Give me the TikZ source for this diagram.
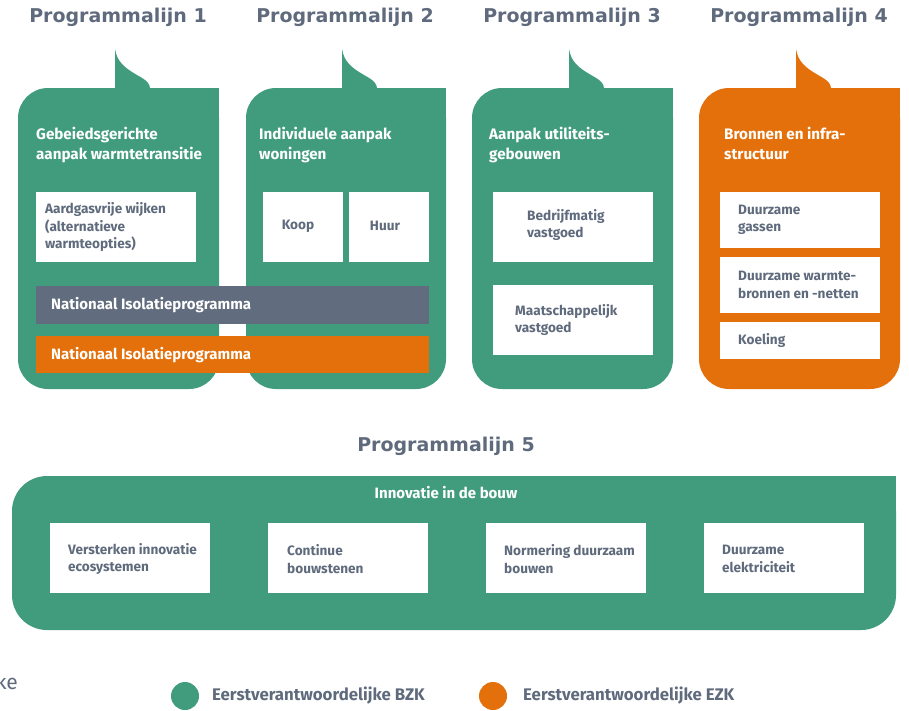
\documentclass[tikz,border=0pt]{standalone}
\usepackage{fontspec}
\setmainfont{Fira Sans}
\newfontfamily\headfont{DejaVu Sans}
\definecolor{bzk}{HTML}{419C7D}
\definecolor{ezk}{HTML}{E3700B}
\definecolor{slate}{HTML}{5F6B7D}
\definecolor{barslate}{HTML}{616D7E}

% speech bubble: #1 left x, #2 right x, #3 tail x, #4 colour
\newcommand{\drawbubble}[4]{%
  \fill[#4, rounded corners=30] (#1,88) rectangle (#2,389);
  \fill[#4] (#2-40,88) rectangle (#2,140);
  \fill[#4] (#3,89) -- (#3,49) .. controls (#3+2,62) and (#3+10,68) .. (#3+22,75)
        .. controls (#3+33,81) and (#3+35,84) .. (#3+35,89) -- cycle;
}

\begin{document}
\begin{tikzpicture}[x=1pt,y=-1pt,
  head/.style={text=slate, font=\headfont\fontsize{19}{22}\selectfont\bfseries, inner sep=0},
  ttl/.style={text=white, font=\fontsize{15.2}{20}\selectfont\bfseries, align=left, anchor=north west, inner sep=0},
  card/.style={fill=white},
  cardtxt/.style={text=slate, font=\fontsize{13.6}{17.5}\selectfont\bfseries, align=left, anchor=west, inner sep=0},
  bartxt/.style={text=white, font=\fontsize{15}{17}\selectfont\bfseries, anchor=west, inner sep=0},
  legtxt/.style={text=slate, font=\fontsize{16.8}{18}\selectfont\bfseries, anchor=west, inner sep=0}]
\useasboundingbox (0,0) rectangle (909,710);

% column headings
\node[head] (h1) at (118,17) {Programmalijn 1};
\node[head] (h2) at (345,17) {Programmalijn 2};
\node[head] (h3) at (572,17) {Programmalijn 3};
\node[head] (h4) at (799,17) {Programmalijn 4};

% bubbles
\drawbubble{18}{219}{115}{bzk}
\drawbubble{246}{446}{342}{bzk}
\drawbubble{472}{673}{569}{bzk}
\drawbubble{699}{900}{796}{ezk}

% bubble titles
\node[ttl] (t1) at (36,127) {Gebeiedsgerichte\\aanpak warmtetransitie};
\node[ttl] (t2) at (259,127) {Individuele aanpak\\woningen};
\node[ttl] (t3) at (489,127) {Aanpak utiliteits-\\gebouwen};
\node[ttl] (t4) at (724,127) {Bronnen en infra-\\structuur};

% programme line 1 and 2 cards
\fill[card] (36,192) rectangle (196,262);
\node[cardtxt] (c11) at (45,227) {Aardgasvrije wijken\\(alternatieve\\warmteopties)};
\fill[card] (263,192) rectangle (343,262);
\node[cardtxt, anchor=center] (c21) at (298,226) {Koop};
\fill[card] (349,192) rectangle (429,262);
\node[cardtxt, anchor=center] (c22) at (385,226) {Huur};

% shared bars
\fill[barslate] (36,286) rectangle (429,324);
\node[bartxt] (b1) at (51,305) {Nationaal Isolatieprogramma};
\fill[ezk] (36,336) rectangle (429,373);
\node[bartxt] (b2) at (51,355) {Nationaal Isolatieprogramma};

% programme line 3 cards
\fill[card] (493,192) rectangle (653,262);
\node[cardtxt] (c31) at (527,225) {Bedrijfmatig\\vastgoed};
\fill[card] (493,285) rectangle (653,355);
\node[cardtxt] (c32) at (515,320) {Maatschappelijk\\vastgoed};

% programme line 4 cards
\fill[card] (720,192) rectangle (880,248);
\node[cardtxt] (c41) at (738,220) {Duurzame\\gassen};
\fill[card] (720,257) rectangle (880,313);
\node[cardtxt] (c42) at (738,285) {Duurzame warmte-\\bronnen en -netten};
\fill[card] (720,322) rectangle (880,359);
\node[cardtxt] (c43) at (738,340) {Koeling};

% programme line 5
\node[head] (h5) at (446,446) {Programmalijn 5};
\fill[bzk, rounded corners=35] (12,476) rectangle (896,630);
\fill[bzk] (850,476) rectangle (896,520);
\node[bartxt, anchor=center] (t5) at (446,493) {Innovatie in de bouw};
\fill[card] (50,523) rectangle (210,593);
\node[cardtxt] (c51) at (68,559) {Versterken innovatie\\ecosystemen};
\fill[card] (268,523) rectangle (428,593);
\node[cardtxt] (c52) at (287,559) {Continue\\bouwstenen};
\fill[card] (486,523) rectangle (646,593);
\node[cardtxt] (c53) at (504,559) {Normering duurzaam\\bouwen};
\fill[card] (704,523) rectangle (864,593);
\node[cardtxt] (c54) at (722,559) {Duurzame\\elektriciteit};

% legend
\fill[bzk] (185,696) circle (14);
\node[legtxt] (l1) at (212,696) {Eerstverantwoordelijke BZK};
\fill[ezk] (493,696) circle (14);
\node[legtxt] (l2) at (523,696) {Eerstverantwoordelijke EZK};

\node[text=slate, font=\fontsize{21}{24}\selectfont, anchor=east, inner sep=0] (ke) at (18,682) {ke};
\end{tikzpicture}
\end{document}
